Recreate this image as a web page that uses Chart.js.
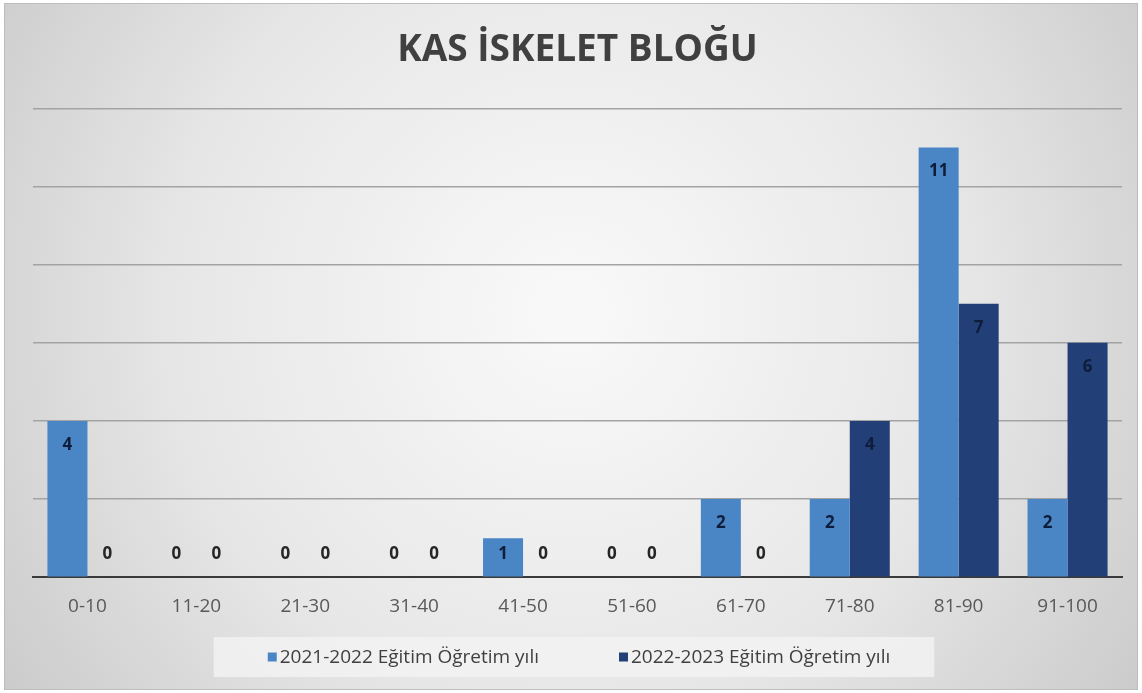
<!DOCTYPE html>
<html lang="tr">
<head>
<meta charset="utf-8">
<title>Kas İskelet Bloğu</title>
<script src="https://cdn.jsdelivr.net/npm/chart.js@4"></script>
<style>
  html, body { margin: 0; padding: 0; background: #ffffff; }
  #wrap { width: 1142px; height: 693px; position: relative; }
</style>
</head>
<body>
<div id="wrap"><canvas id="chart"></canvas></div>
<script>
const araliklar = ['0-10', '11-20', '21-30', '31-40', '41-50', '51-60', '61-70', '71-80', '81-90', '91-100'];
const yil2122 = [4, 0, 0, 0, 1, 0, 2, 2, 11, 2];
const yil2223 = [0, 0, 0, 0, 0, 0, 0, 4, 7, 6];
const seriAdlari = ['2021-2022 Eğitim Öğretim yılı', '2022-2023 Eğitim Öğretim yılı'];
const renkler = ['#4a86c6', '#223f78'];

const FONT = '"Open Sans", "DejaVu Sans", sans-serif';

// gri degrade zemin
const zeminPlugin = {
  id: 'zemin',
  beforeDraw(chart) {
    const { ctx, width, height } = chart;
    ctx.save();
    const g = ctx.createRadialGradient(width * 0.5, height * 0.45, 30, width * 0.5, height * 0.45, width * 0.6);
    g.addColorStop(0, '#f8f8f8');
    g.addColorStop(0.55, '#e7e7e7');
    g.addColorStop(1, '#cbcbcb');
    ctx.fillStyle = g;
    ctx.fillRect(4, 3, width - 8, height - 6);
    ctx.strokeStyle = '#bdbdbd';
    ctx.lineWidth = 1;
    ctx.strokeRect(4.5, 3.5, width - 9, height - 7);
    ctx.restore();
  }
};

// alttaki lejant: kutu, renk kareleri ve seri adlari
const lejantPlugin = {
  id: 'lejant',
  afterDraw(chart) {
    const { ctx } = chart;
    const ds = chart.data.datasets;
    const kare = 9, bosluk = 3, ara = 80;
    ctx.save();
    ctx.font = '19px ' + FONT;
    const genislik = ds.map(d => kare + bosluk + ctx.measureText(d.label).width);
    const toplam = genislik.reduce((a, b) => a + b, 0) + ara * (ds.length - 1);
    const yOrta = 657;
    let x = 579 - toplam / 2;

    ctx.fillStyle = 'rgba(242,242,242,0.85)';
    ctx.fillRect(x - 54, yOrta - 20, toplam + 98, 40);

    ctx.textBaseline = 'middle';
    ds.forEach((d, i) => {
      ctx.fillStyle = d.backgroundColor;
      ctx.fillRect(x, yOrta - kare / 2, kare, kare);
      ctx.fillStyle = '#404040';
      ctx.fillText(d.label, x + kare + bosluk, yOrta + 1);
      x += genislik[i] + ara;
    });
    ctx.restore();
  }
};

// cubuk ustundeki degerler (kisa cubukta ortada, sifirda tabanin ustunde)
const degerPlugin = {
  id: 'degerler',
  afterDatasetsDraw(chart) {
    const { ctx } = chart;
    ctx.save();
    ctx.font = 'bold 17px ' + FONT;
    ctx.textAlign = 'center';
    ctx.textBaseline = 'middle';
    chart.data.datasets.forEach((ds, i) => {
      const meta = chart.getDatasetMeta(i);
      meta.data.forEach((bar, j) => {
        const v = ds.data[j];
        const y = v > 0 ? Math.min(bar.y + 24, (bar.y + bar.base) / 2 - 3) : bar.base - 23;
        ctx.fillStyle = v > 0 ? '#0f1d3a' : '#262626';
        ctx.fillText(String(v), bar.x, y);
      });
    });
    ctx.restore();
  }
};

new Chart(document.getElementById('chart'), {
  type: 'bar',
  data: {
    labels: araliklar,
    datasets: [
      { label: seriAdlari[0], data: yil2122, backgroundColor: renkler[0] },
      { label: seriAdlari[1], data: yil2223, backgroundColor: renkler[1] }
    ]
  },
  options: {
    responsive: true,
    maintainAspectRatio: false,
    animation: false,
    layout: { padding: { left: 33, right: 20, top: 0, bottom: 65 } },
    datasets: { bar: { categoryPercentage: 0.735, barPercentage: 1.0 } },
    scales: {
      x: {
        grid: { display: false },
        border: { display: true, color: '#3a3a3a', width: 2 },
        ticks: { color: '#595959', font: { family: FONT, size: 19 }, padding: 10 }
      },
      y: {
        min: 0,
        max: 12,
        ticks: { display: false, stepSize: 2 },
        border: { display: false },
        grid: { color: '#a3a3a3', lineWidth: 1.5, drawTicks: false }
      }
    },
    plugins: {
      title: {
        display: true,
        text: 'KAS İSKELET BLOĞU',
        color: '#404040',
        font: { family: FONT, size: 37, weight: 'bold' },
        padding: { top: 28, bottom: 36 }
      },
      legend: { display: false },
      tooltip: { enabled: false }
    }
  },
  plugins: [zeminPlugin, degerPlugin, lejantPlugin]
});
</script>
</body>
</html>
